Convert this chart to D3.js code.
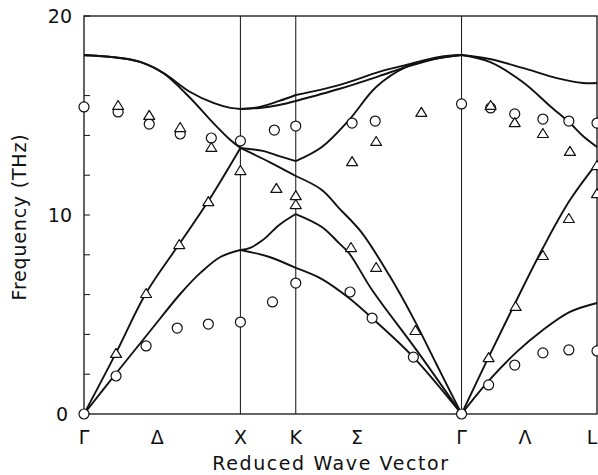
<!DOCTYPE html>
<html>
<head>
<meta charset="utf-8">
<script src="https://cdn.jsdelivr.net/npm/d3@7"></script>
<style>
  body { margin: 0; background: #fff; }
  text { font-family: "DejaVu Sans", sans-serif; fill: #111; }
</style>
</head>
<body>
<svg id="d3svg" width="598" height="475"></svg>
<script>
// path through the zone: Γ - X - K - Γ - L (reduced units, Γ-X = 1)
const pathNodes = ["Γ", "X", "K", "Γ", "L"];
const nodeQ = [0, 1, 1.354, 2.414, 3.280];
const dirLabels = ["Δ", "Σ", "Λ"];
const dirQ = [0.468, 1.746, 2.82];

const majorTicks = [0, 10, 20];
const minorTicks = [2, 4, 6, 8, 12, 14, 16, 18];

// calculated branches, [q, THz], one array per segment
const gxTO = [[0,18.04],[0.231,17.89],[0.359,17.69],[0.506,17.14],[0.679,16.18],[0.827,15.63],[0.936,15.38],[1,15.33]];
const gxLO = [[0,18.04],[0.231,17.89],[0.359,17.69],[0.506,17.14],[0.679,15.88],[0.827,14.62],[0.936,13.77],[1,13.37]];
const gxLA = [[0,0],[0.205,3.07],[0.397,6.08],[0.609,8.54],[0.795,10.70],[1,13.37]];
const gxTA = [[0,0],[0.212,2.11],[0.423,4.17],[0.615,6.03],[0.744,7.09],[0.872,7.89],[1,8.24]];

const xkU1 = [[1,15.33],[1.062,15.36],[1.124,15.43],[1.248,15.73],[1.354,16.03]];
const xkU2 = [[1,15.33],[1.062,15.35],[1.124,15.38],[1.248,15.53],[1.354,15.73]];
const xkLO = [[1,13.37],[1.143,13.22],[1.248,12.96],[1.354,12.71]];
const xkLA = [[1,13.37],[1.186,12.66],[1.354,11.96]];
const xkTA2 = [[1,8.24],[1.062,8.35],[1.143,8.74],[1.248,9.50],[1.354,10.05]];
const xkTA1 = [[1,8.24],[1.186,7.89],[1.354,7.34]];

const kgU1 = [[1.354,16.03],[1.630,16.53],[1.887,17.19],[2.061,17.54],[2.272,17.94],[2.414,18.04]];
const kgU2 = [[1.354,15.73],[1.630,16.33],[1.887,16.98],[2.061,17.44],[2.272,17.89],[2.414,18.04]];
const kgLO = [[1.354,12.71],[1.521,13.42],[1.694,14.77],[1.868,16.43],[2.061,17.44],[2.272,17.89],[2.414,18.04]];
const kgLA = [[1.354,11.96],[1.521,11.26],[1.630,10.35],[1.772,9.15],[1.951,6.98],[2.112,4.72],[2.253,2.51],[2.414,0]];
const kgTA2 = [[1.354,10.05],[1.521,9.40],[1.630,8.59],[1.694,8.09],[1.842,6.23],[2.125,3.22],[2.414,0]];
const kgTA1 = [[1.354,7.34],[1.521,6.78],[1.694,5.83],[1.842,4.82],[2.106,2.86],[2.414,0]];

const glTO = [[2.414,18.04],[2.594,17.84],[2.805,17.39],[3.023,16.88],[3.190,16.63],[3.280,16.63]];
const glLO = [[2.414,18.04],[2.594,17.69],[2.805,16.68],[2.979,15.48],[3.107,14.62],[3.190,13.97],[3.280,13.42]];
const glLA = [[2.414,0],[2.587,2.86],[2.760,5.63],[2.934,8.34],[3.107,10.75],[3.280,12.61]];
const glTA = [[2.414,0],[2.587,1.66],[2.767,3.12],[2.934,4.22],[3.107,5.13],[3.280,5.58]];

// measured points
const circles = [
  [0,0],[0,15.43],
  [0.205,1.91],[0.397,3.42],[0.596,4.32],[0.795,4.52],[1,4.62],
  [0.218,15.18],[0.417,14.57],[0.615,14.07],[0.814,13.87],[1,13.72],
  [1.217,14.27],[1.354,14.47],[1.205,5.63],[1.354,6.58],
  [1.714,14.62],[1.862,14.72],[2.414,15.58],
  [1.701,6.13],[1.842,4.82],[2.106,2.86],[2.414,0],
  [2.600,15.38],[2.754,15.08],[2.934,14.82],[3.100,14.72],[3.280,14.62],
  [2.587,1.46],[2.754,2.46],[2.934,3.07],[3.100,3.22],[3.280,3.17]
];
const triangles = [
  [0.218,15.53],[0.417,15.03],[0.615,14.42],[0.814,13.42],[1,12.26],
  [0.205,3.07],[0.397,6.08],[0.609,8.54],[0.795,10.70],
  [1.230,11.36],[1.354,11.0],[1.354,10.55],
  [1.714,12.71],[1.868,13.72],[2.157,15.18],
  [1.707,8.39],[1.868,7.39],[2.119,4.22],
  [2.600,15.53],[2.754,14.67],[2.934,14.12],[3.107,13.22],[3.280,12.51],[3.280,11.1],[3.100,9.85],
  [2.587,2.86],[2.760,5.43],[2.934,7.99]
];

const branches = [gxTO, gxLO, gxLA, gxTA, xkU1, xkU2, xkLO, xkLA, xkTA2, xkTA1,
                  kgU1, kgU2, kgLO, kgLA, kgTA2, kgTA1, glTO, glLO, glLA, glTA];

const mLeft = 84, mRight = 597, mTop = 16, mBottom = 414;

const svg = d3.select("#d3svg");
const x = d3.scaleLinear().domain([0, nodeQ[nodeQ.length - 1]]).range([mLeft, mRight]);
const y = d3.scaleLinear().domain([0, 20]).range([mBottom, mTop]);

// frame
svg.append("rect")
  .attr("x", mLeft).attr("y", mTop)
  .attr("width", mRight - mLeft).attr("height", mBottom - mTop)
  .attr("fill", "none").attr("stroke", "#111").attr("stroke-width", 1.3);

// symmetry point verticals
svg.append("g").selectAll("line")
  .data(nodeQ.slice(1, 4))
  .enter().append("line")
  .attr("x1", d => x(d)).attr("x2", d => x(d))
  .attr("y1", mTop).attr("y2", mBottom)
  .attr("stroke", "#111").attr("stroke-width", 1);

// y ticks (inside)
svg.append("g").selectAll("line")
  .data(majorTicks.concat(minorTicks))
  .enter().append("line")
  .attr("x1", mLeft).attr("x2", mLeft + 6)
  .attr("y1", d => y(d)).attr("y2", d => y(d))
  .attr("stroke", "#111").attr("stroke-width", 1);

svg.append("g").selectAll("text")
  .data(majorTicks)
  .enter().append("text")
  .attr("x", d => d === 0 ? mLeft - 16 : mLeft - 12)
  .attr("y", d => y(d) + 7)
  .attr("text-anchor", "end")
  .attr("font-size", 19)
  .text(d => d);

// branches
const line = d3.line()
  .x(d => x(d[0]))
  .y(d => y(d[1]))
  .curve(d3.curveCatmullRom.alpha(0.5));

svg.append("g").selectAll("path")
  .data(branches)
  .enter().append("path")
  .attr("d", line)
  .attr("fill", "none")
  .attr("stroke", "#111")
  .attr("stroke-width", 1.9);

// markers
svg.append("g").selectAll("circle")
  .data(circles)
  .enter().append("circle")
  .attr("cx", d => x(d[0]))
  .attr("cy", d => y(d[1]))
  .attr("r", 5)
  .attr("fill", "#fff")
  .attr("stroke", "#111")
  .attr("stroke-width", 1.2);

svg.append("g").selectAll("path")
  .data(triangles)
  .enter().append("path")
  .attr("d", d => {
    const cx = x(d[0]), cy = y(d[1]);
    return "M" + cx + "," + (cy - 4.5) + "L" + (cx + 5.5) + "," + (cy + 4.5) + "L" + (cx - 5.5) + "," + (cy + 4.5) + "Z";
  })
  .attr("fill", "#fff")
  .attr("stroke", "#111")
  .attr("stroke-width", 1.2)
  .attr("stroke-linejoin", "round");

// x labels
svg.append("g").selectAll("text")
  .data(pathNodes.map((n, i) => [n, nodeQ[i]]).concat(dirLabels.map((n, i) => [n, dirQ[i]])))
  .enter().append("text")
  .attr("x", d => Math.min(x(d[1]), 592))
  .attr("y", 444)
  .attr("text-anchor", "middle")
  .attr("font-size", 19)
  .text(d => d[0]);

svg.append("text")
  .attr("x", 331).attr("y", 470)
  .attr("text-anchor", "middle")
  .attr("font-size", 19)
  .attr("letter-spacing", 1.6)
  .text("Reduced Wave Vector");

svg.append("text")
  .attr("transform", "translate(26,217) rotate(-90)")
  .attr("text-anchor", "middle")
  .attr("font-size", 19)
  .attr("letter-spacing", 0.8)
  .text("Frequency (THz)");
</script>
</body>
</html>
